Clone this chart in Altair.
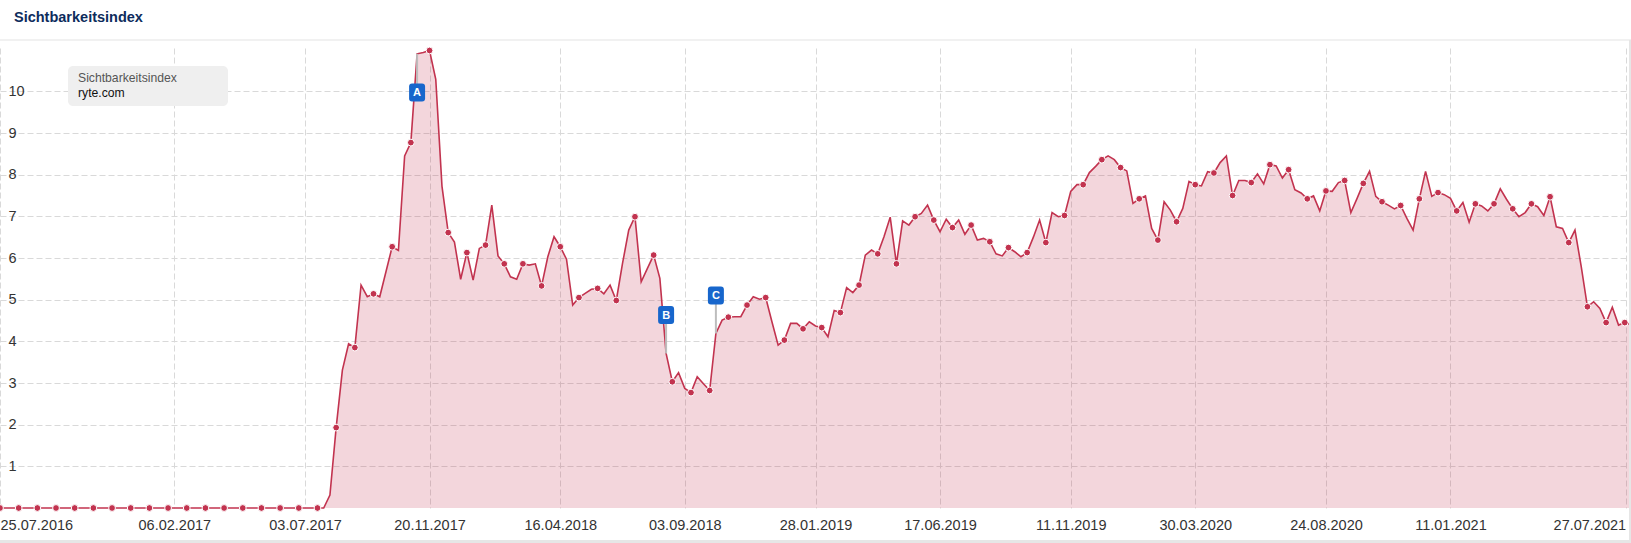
import altair as alt
import pandas as pd

TITLE = "Sichtbarkeitsindex"
LEGEND_TITLE = "Sichtbarkeitsindex"
LEGEND_DOMAIN = "ryte.com"

START = "2016-07-25"          # first weekly value (Monday)
END = "2021-08-02"            # last weekly value

# weekly Sichtbarkeitsindex values
ZERO_WEEKS = [0.0] * 52
VALUES = ZERO_WEEKS + [
    0.0, 0.31, 1.93, 3.31, 3.94, 3.85, 5.35, 5.07, 5.14, 5.07,
    5.67, 6.27, 6.18, 8.45, 8.77, 10.90, 10.93, 10.98, 10.29, 7.72,
    6.61, 6.38, 5.49, 6.13, 5.47, 6.23, 6.31, 7.27, 6.05, 5.86,
    5.55, 5.49, 5.86, 5.83, 5.86, 5.33, 6.03, 6.51, 6.27, 5.97,
    4.87, 5.05, 5.15, 5.25, 5.27, 5.14, 5.35, 4.98, 5.87, 6.67,
    6.99, 5.43, 5.75, 6.07, 5.51, 3.71, 3.03, 3.25, 2.87, 2.77,
    3.15, 2.98, 2.82, 4.19, 4.51, 4.58, 4.59, 4.59, 4.87, 5.07,
    5.01, 5.05, 4.47, 3.91, 4.03, 4.43, 4.43, 4.30, 4.47, 4.37,
    4.33, 4.11, 4.74, 4.69, 5.29, 5.17, 5.35, 6.07, 6.19, 6.10,
    6.51, 6.98, 5.86, 6.89, 6.79, 6.99, 7.07, 7.27, 6.91, 6.63,
    6.93, 6.73, 6.91, 6.57, 6.79, 6.43, 6.47, 6.39, 6.10, 6.05,
    6.25, 6.15, 6.03, 6.13, 6.50, 6.91, 6.37, 7.09, 6.99, 7.02,
    7.60, 7.76, 7.76, 8.05, 8.20, 8.36, 8.45, 8.36, 8.17, 8.09,
    7.31, 7.42, 7.49, 6.71, 6.43, 7.35, 7.15, 6.87, 7.19, 7.84,
    7.76, 7.73, 8.07, 8.04, 8.29, 8.45, 7.50, 7.86, 7.86, 7.81,
    8.02, 7.78, 8.24, 8.21, 7.92, 8.12, 7.64, 7.56, 7.42, 7.49,
    7.13, 7.61, 7.60, 7.81, 7.86, 7.09, 7.43, 7.79, 8.08, 7.48,
    7.35, 7.27, 7.18, 7.26, 6.95, 6.67, 7.42, 8.08, 7.48, 7.57,
    7.52, 7.43, 7.13, 7.33, 6.86, 7.30, 7.25, 7.13, 7.30, 7.66,
    7.41, 7.18, 6.99, 7.09, 7.30, 7.23, 7.02, 7.47, 6.75, 6.71,
    6.37, 6.67, 5.80, 4.83, 4.95, 4.79, 4.45, 4.82, 4.39, 4.45,
    4.40,
]

X_TICK_DATES = ["2016-07-25", "2017-02-06", "2017-07-03", "2017-11-20",
                "2018-04-16", "2018-09-03", "2019-01-28", "2019-06-17",
                "2019-11-11", "2020-03-30", "2020-08-24", "2021-01-11",
                "2021-07-27"]
Y_TICKS = [1, 2, 3, 4, 5, 6, 7, 8, 9, 10]
Y_MAX = 11.04

FLAG_LABELS = ["A", "B", "C"]
FLAG_DATES = ["2017-11-06", "2018-08-13", "2018-10-08"]
FLAG_BOX_Y = [9.97, 4.63, 5.10]

RED = "#c2334f"
BLUE = "#1766cc"
FONT = "Liberation Sans"


def dt(s):
    y, m, d = (int(p) for p in s.split("-"))
    return alt.DateTime(year=y, month=m, date=d, utc=True)


dates = pd.date_range(START, periods=len(VALUES), freq="7D").strftime("%Y-%m-%d")
df = pd.DataFrame({"date": dates, "value": VALUES})
df["dot"] = [i % 3 == 0 for i in range(len(df))]

lookup = dict(zip(df["date"], df["value"]))
flags = pd.DataFrame({"date": FLAG_DATES, "label": FLAG_LABELS, "box_y": FLAG_BOX_Y})
flags["end"] = [lookup[d] for d in FLAG_DATES]

x_scale = alt.Scale(type="utc", domain=[dt(START), dt(END)])
y_scale = alt.Scale(domain=[0, Y_MAX], nice=False, zero=True)

x_axis = alt.Axis(values=[dt(d) for d in X_TICK_DATES],
                  labelExpr="utcFormat(datum.value, '%d.%m.%Y')",
                  labelAlign=alt.expr("datum.index == 0 ? 'left' : (datum.index == 1 ? 'right' : 'center')"),
                  grid=True, gridDash=[6, 3], gridColor="#d9d9d9", gridWidth=1,
                  ticks=False, tickSize=0, domain=False, labelFlush=False,
                  labelOverlap=False, labelPadding=10, labelFontSize=14.5,
                  labelColor="#333333", labelFont=FONT, title=None)
y_axis = alt.Axis(values=Y_TICKS, grid=True, gridDash=[6, 3], gridColor="#d9d9d9",
                  gridWidth=1, ticks=False, tickSize=0, domain=False,
                  labelAlign="left", labelBaseline="middle", labelPadding=-8,
                  labelFontSize=14.5, labelColor="#333333", labelFont=FONT, title=None)

base = alt.Chart(df)
X = alt.X("date:T", scale=x_scale, axis=x_axis)
Y = alt.Y("value:Q", scale=y_scale, axis=y_axis)

area = base.mark_area(color=RED, opacity=0.2, interpolate="linear").encode(x=X, y=Y)
line = base.mark_line(color=RED, strokeWidth=1.6).encode(x=X, y=Y)
dots = base.transform_filter("datum.dot").mark_point(
    shape="circle", filled=True, fill=RED, stroke="white", strokeWidth=1,
    size=46, opacity=1).encode(x=X, y=Y)

fbase = alt.Chart(flags)
FX = alt.X("date:T", scale=x_scale, axis=x_axis)
stems = fbase.mark_rule(color="#bdbdbd", strokeWidth=2).encode(
    x=FX, y=alt.Y("box_y:Q", scale=y_scale, axis=y_axis), y2="end:Q")
BOX = ("M-0.556,-1 L0.556,-1 Q0.889,-1 0.889,-0.667 L0.889,0.667 Q0.889,1 0.556,1 "
       "L-0.556,1 Q-0.889,1 -0.889,0.667 L-0.889,-0.667 Q-0.889,-1 -0.556,-1 Z")
boxes = fbase.mark_point(shape=BOX, filled=True, fill=BLUE, strokeWidth=0,
                         size=324, opacity=1).encode(
    x=FX, y=alt.Y("box_y:Q", scale=y_scale, axis=y_axis))
ftext = fbase.mark_text(color="white", fontWeight="bold", fontSize=11, font=FONT,
                        align="center", baseline="middle", dy=0.5).encode(
    x=FX, y=alt.Y("box_y:Q", scale=y_scale, axis=y_axis), text="label:N")

tdf = pd.DataFrame({"t": [TITLE]})
title = alt.Chart(tdf).mark_text(
    align="left", baseline="middle", fontSize=14.5, fontWeight="bold",
    font=FONT, color="#0d2c5c").encode(text="t:N", x=alt.value(14), y=alt.value(-30))
sep = alt.Chart(tdf).mark_rule(color="#e3e3e3", strokeWidth=1).encode(
    x=alt.value(0), x2=alt.value(1631), y=alt.value(-8))
bottom = alt.Chart(tdf).mark_rule(color="#e6e6e6", strokeWidth=3).encode(
    x=alt.value(0), x2=alt.value(1631), y=alt.value(493.5))
right = alt.Chart(tdf).mark_rule(color="#e6e6e6", strokeWidth=2).encode(
    x=alt.value(1630), y=alt.value(-8), y2=alt.value(494))

ldf = pd.DataFrame({"a": [LEGEND_TITLE], "b": [LEGEND_DOMAIN]})
lbox = alt.Chart(ldf).mark_rect(fill="#efefef", cornerRadius=5).encode(
    x=alt.value(68), x2=alt.value(228), y=alt.value(18), y2=alt.value(58))
ltxt1 = alt.Chart(ldf).mark_text(align="left", baseline="middle", fontSize=12.2,
                                 font=FONT, color="#555555").encode(
    text="a:N", x=alt.value(78), y=alt.value(29.7))
ltxt2 = alt.Chart(ldf).mark_text(align="left", baseline="middle", fontSize=12.2,
                                 font=FONT, color="#111111").encode(
    text="b:N", x=alt.value(78), y=alt.value(45.3))

chart = alt.layer(
    area, line, dots, stems, boxes, ftext,
    lbox, ltxt1, ltxt2, title, sep, bottom, right,
).properties(
    width=1631, height=460,
    autosize=alt.AutoSizeParams(type="none"),
    padding={"left": 0, "top": 48, "right": 0, "bottom": 35},
    background="white",
).configure_view(stroke="transparent")

chart.save("out.html", embed_options={"renderer": "svg", "actions": False})
